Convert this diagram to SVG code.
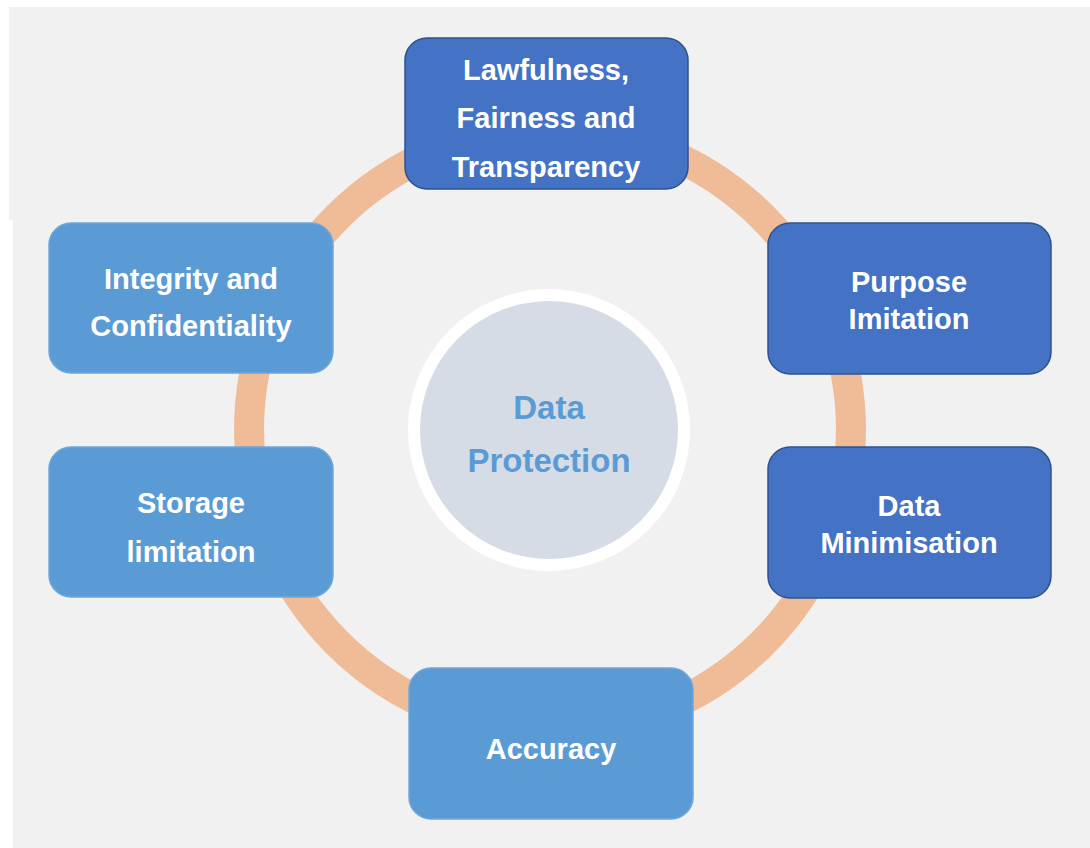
<svg xmlns="http://www.w3.org/2000/svg" width="1090" height="848" viewBox="0 0 1090 848">
  <style>
    .dark { fill: #4472c4; stroke: #2f528f; stroke-width: 1.5; }
    .light { fill: #5b9bd5; stroke: #6fa7da; stroke-width: 1.5; }
    .lbl { font-family: "Liberation Sans", Arial, sans-serif; font-weight: bold; font-size: 29px; fill: #ffffff; text-anchor: middle; }
    .core { font-family: "Liberation Sans", Arial, sans-serif; font-weight: bold; font-size: 33px; fill: #5b9bd5; text-anchor: middle; }
  </style>

  <!-- canvas -->
  <rect x="0" y="0" width="1090" height="848" fill="#ffffff"/>
  <path d="M9 7 H1090 V848 H13 V220 H9 Z" fill="#f1f1f1"/>

  <!-- connecting ring -->
  <g id="connectors">
    <circle cx="550" cy="430" r="301" fill="none" stroke="#f0bc98" stroke-width="30"/>
  </g>

  <!-- centre -->
  <g id="data-protection">
    <circle cx="549" cy="430" r="135" fill="#d6dce5" stroke="#ffffff" stroke-width="12"/>
    <text class="core" x="549" y="419">Data</text>
    <text class="core" x="549" y="472">Protection</text>
  </g>

  <g id="lawfulness">
    <rect class="dark" x="405" y="38" width="283" height="151" rx="22"/>
    <text class="lbl" x="546" y="80">Lawfulness,</text>
    <text class="lbl" x="546" y="128">Fairness and</text>
    <text class="lbl" x="546" y="177">Transparency</text>
  </g>

  <g id="purpose">
    <rect class="dark" x="768" y="223" width="283" height="151" rx="22"/>
    <text class="lbl" x="909" y="292">Purpose</text>
    <text class="lbl" x="909" y="329">Imitation</text>
  </g>

  <g id="minimisation">
    <rect class="dark" x="768" y="447" width="283" height="151" rx="22"/>
    <text class="lbl" x="909" y="516">Data</text>
    <text class="lbl" x="909" y="553">Minimisation</text>
  </g>

  <g id="accuracy">
    <rect class="light" x="409" y="668" width="284" height="151" rx="22"/>
    <text class="lbl" x="551" y="759">Accuracy</text>
  </g>

  <g id="storage">
    <rect class="light" x="49" y="447" width="284" height="150" rx="22"/>
    <text class="lbl" x="191" y="513">Storage</text>
    <text class="lbl" x="191" y="562">limitation</text>
  </g>

  <g id="integrity">
    <rect class="light" x="49" y="223" width="284" height="150" rx="22"/>
    <text class="lbl" x="191" y="289">Integrity and</text>
    <text class="lbl" x="191" y="336">Confidentiality</text>
  </g>
</svg>
